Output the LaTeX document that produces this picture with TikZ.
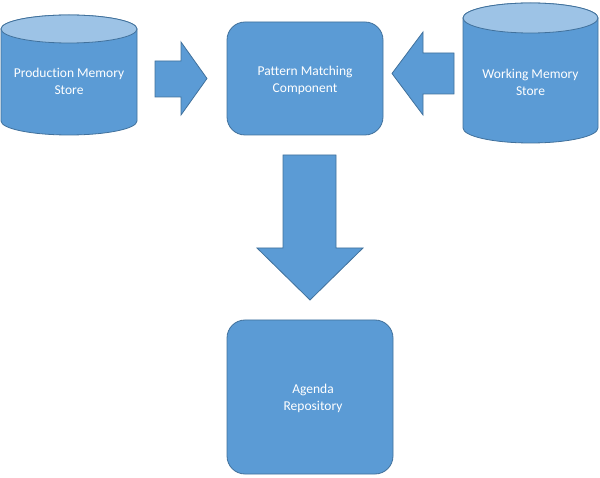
\documentclass[tikz,border=0pt]{standalone}
\usepackage{fontspec}
\setmainfont{Carlito}[Ligatures=NoCommon]
\usetikzlibrary{positioning}
\definecolor{boxblue}{HTML}{5B9BD5}
\definecolor{edgeblue}{HTML}{41719C}
\definecolor{topblue}{HTML}{9DC3E6}
\tikzset{
  shapefill/.style={fill=boxblue, draw=edgeblue, line width=0.8pt},
  lidfill/.style={fill=topblue, draw=edgeblue, line width=0.8pt},
  label/.style={text=white, align=center, font=\fontsize{13.5}{17}\selectfont},
  roundbox/.style={shapefill, rounded corners=18pt, inner sep=0pt}
}
\begin{document}
\begin{tikzpicture}[x=1pt, y=1pt]

    \useasboundingbox (0,0) rectangle (600,477);
    \def \ry {14}
    % the two memory stores
    \draw[shapefill] (1,448) -- (1,356) arc[start angle=180, end angle=360, x radius=68pt, y radius=\ry pt]
      -- (137,448) arc[start angle=0, end angle=180, x radius=68pt, y radius=\ry pt] -- cycle;
    \draw[lidfill] (69,448) ellipse (68pt and \ry pt);
    \node[label] (prod) at (69,396) {Production Memory\\Store};

    \draw[shapefill] (463,459) -- (463,349) arc[start angle=180, end angle=360, x radius=67.5pt, y radius=15pt]
      -- (598,459) arc[start angle=0, end angle=180, x radius=67.5pt, y radius=15pt] -- cycle;
    \draw[lidfill] (530.5,459) ellipse (67.5pt and 15pt);
    \node[label] (work) at (530.5,395) {Working Memory\\Store};

    % the two boxes
    \node[roundbox, minimum width=156pt, minimum height=113pt] (match) at (305,398.5) {};
    \node[label] (matchtext) at ([yshift=-1.5pt]match.center) {Pattern Matching\\Component};
    \node[roundbox, minimum width=166pt, minimum height=154pt] (agenda) at (310,80) {};
    \node[label] (agendatext) at ([xshift=3pt, yshift=-1pt]agenda.center) {Agenda\\Repository};

    % block arrows
    \draw[shapefill] (155,416) -- (181,416) -- (181,435) -- (207,398.5)
      -- (181,362) -- (181,380) -- (155,380) -- cycle;
    \draw[shapefill] (454,424) -- (423,424) -- (423,445) -- (392,403.5)
      -- (423,362) -- (423,383) -- (454,383) -- cycle;
    \draw[shapefill] (283,322) -- (283,229) -- (257,229) -- (310,177)
      -- (363,229) -- (336,229) -- (336,322) -- cycle;
  \end{tikzpicture}
\end{document}
